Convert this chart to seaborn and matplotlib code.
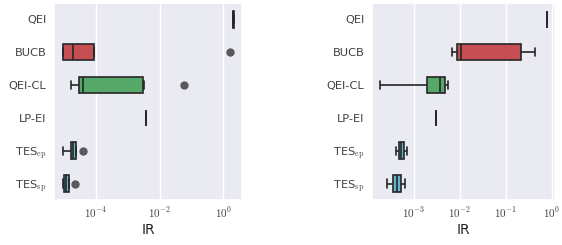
import matplotlib
matplotlib.use("Agg")
import matplotlib.pyplot as plt
import matplotlib.ticker as mticker
import seaborn as sns
import pandas as pd
import numpy as np

methods = ["QEI", "BUCB", "QEI-CL", "LP-EI", r"TES$_{\rm ep}$", r"TES$_{\rm sp}$"]
colors = ["#4c72b0", "#c44e52", "#55a868", "#8172b3", "#64b5cd", "#64b5cd"]

# left panel, immediate regret per run
left_qei = [2.02, 2.04, 2.05, 2.06, 2.08]
left_bucb = [9.2e-6, 9.6e-6, 1.9e-5, 8.85e-5, 1.62]
left_qeicl = [1.65e-5, 2.5e-5, 3.0e-5, 3.5e-5, 4.1e-5, 1.0e-3, 3.1e-3, 3.2e-3, 0.060]
left_lpei = [3.68e-3, 3.69e-3, 3.7e-3, 3.71e-3, 3.72e-3]
left_tes_ep = [9.6e-6, 1.68e-5, 1.95e-5, 2.42e-5, 4.1e-5]
left_tes_sp = [9.4e-6, 1.04e-5, 1.15e-5, 1.49e-5, 2.3e-5]
left_ticks = [1e-4, 1e-2, 1e0]

# right panel
right_qei = [0.785, 0.788, 0.79, 0.792, 0.795]
right_bucb = [7.0e-3, 8.9e-3, 1.1e-2, 0.217, 0.44]
right_qeicl = [1.89e-4, 1.93e-3, 3.71e-3, 4.70e-3, 5.56e-3]
right_lpei = [3.01e-3, 3.02e-3, 3.03e-3, 3.04e-3, 3.05e-3]
right_tes_ep = [4.15e-4, 4.76e-4, 5.36e-4, 6.23e-4, 7.03e-4]
right_tes_sp = [2.64e-4, 3.57e-4, 4.36e-4, 5.36e-4, 6.55e-4]
right_ticks = [1e-3, 1e-2, 1e-1, 1e0]


def to_frame(groups):
    rows = []
    for name, vals in zip(methods, groups):
        for v in vals:
            rows.append({"method": name, "IR": v})
    return pd.DataFrame(rows)


def pow10(v, pos):
    return r"$10^{%d}$" % round(np.log10(v))


left_df = to_frame([left_qei, left_bucb, left_qeicl, left_lpei, left_tes_ep, left_tes_sp])
right_df = to_frame([right_qei, right_bucb, right_qeicl, right_lpei, right_tes_ep, right_tes_sp])

sns.set_theme(style="darkgrid")
plt.rcParams["mathtext.fontset"] = "cm"

fig, axes = plt.subplots(1, 2, figsize=(5.62, 2.45), dpi=100)

for ax, df, ticks in zip(axes, [left_df, right_df], [left_ticks, right_ticks]):
    sns.boxplot(data=df, x="IR", y="method", hue="method", order=methods,
                hue_order=methods, palette=colors, legend=False, ax=ax,
                width=0.5, linewidth=1.2, linecolor="0.15", saturation=1,
                flierprops=dict(marker="o", markerfacecolor="0.35",
                                markeredgecolor="0.35", markersize=5))
    ax.set_xscale("log")
    ax.autoscale(axis="x")
    ax.set_xticks(ticks)
    ax.xaxis.set_major_formatter(mticker.FuncFormatter(pow10))
    ax.xaxis.set_minor_locator(mticker.NullLocator())
    ax.set_ylabel("")
    ax.set_xlabel("IR", fontsize=10, labelpad=2)
    ax.tick_params(axis="y", labelsize=8.2, length=0, pad=5.5, labelcolor="0.25")
    ax.tick_params(axis="x", labelsize=8, length=0, pad=4, labelcolor="0.25")

axes[0].set_position([0.096, 0.184, 0.335, 0.804])
axes[1].set_position([0.662, 0.184, 0.326, 0.804])

plt.savefig("out.png", dpi=100)
